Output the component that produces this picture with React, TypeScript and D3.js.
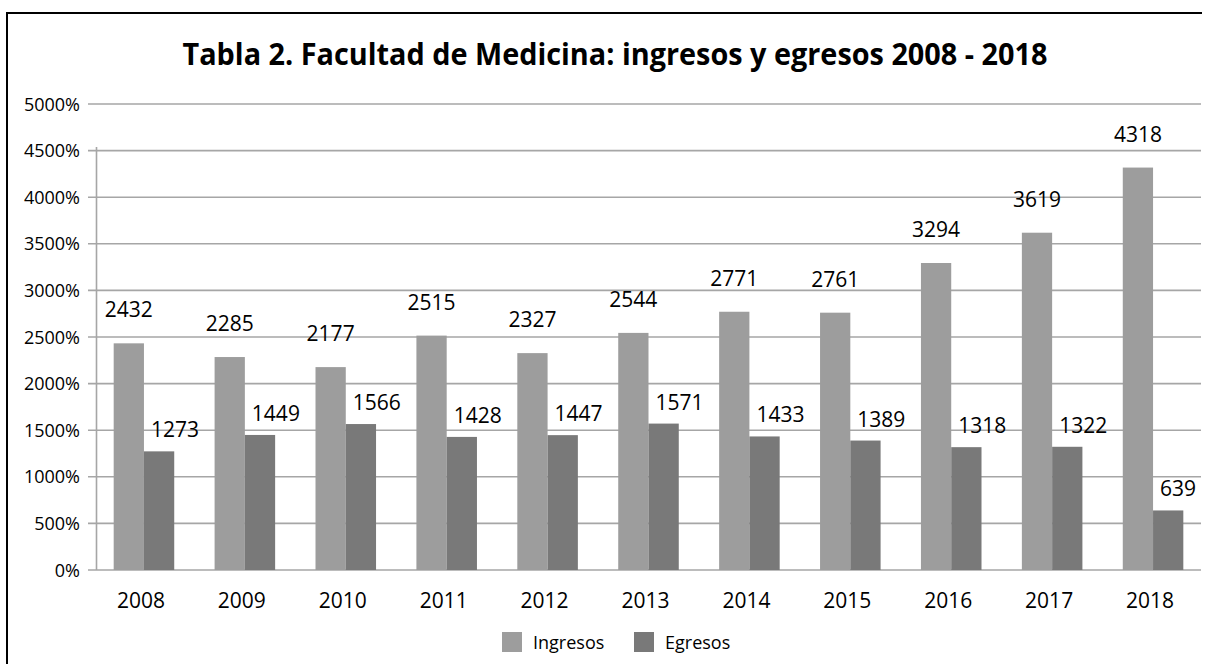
import React from "react";
import * as d3 from "d3";

const years = ["2008", "2009", "2010", "2011", "2012", "2013", "2014", "2015", "2016", "2017", "2018"];
const ingresos = [2432, 2285, 2177, 2515, 2327, 2544, 2771, 2761, 3294, 3619, 4318];
const egresos = [1273, 1449, 1566, 1428, 1447, 1571, 1433, 1389, 1318, 1322, 639];
const yTicks = [0, 500, 1000, 1500, 2000, 2500, 3000, 3500, 4000, 4500, 5000];
const seriesNames = ["Ingresos", "Egresos"];
const title = "Tabla 2. Facultad de Medicina: ingresos y egresos 2008 - 2018";

const W = 1207;
const H = 664;
const colors = ["#9d9d9d", "#797979"];
const labelGap = [26, 14];
const FONT = "'Open Sans', 'Liberation Sans', sans-serif";

export default function App() {
  const x = d3.scaleBand<string>().domain(years).range([93.5, 1203.5]).paddingInner(0.4).paddingOuter(0.2);
  const xs = d3.scaleBand<string>().domain(seriesNames).range([0, x.bandwidth()]);
  const y = d3.scaleLinear().domain([0, 5000]).range([570, 104]);
  const series = [ingresos, egresos];
  const gridX0 = 88;
  const gridX1 = 1201;
  const axisX = 96.5;

  return (
    <svg width={W} height={H} style={{ position: "absolute", left: 0, top: 0, background: "#fff" }}>
      <rect x={0} y={0} width={W} height={H} fill="#fff" />
      {/* frame */}
      <line x1={7} y1={13} x2={1202} y2={13} stroke="#000" strokeWidth={2} />
      <line x1={7} y1={12} x2={7} y2={H} stroke="#000" strokeWidth={2} />
      {/* title */}
      <text x={615} y={65} textAnchor="middle" fontFamily={FONT} fontWeight="bold" fontSize={31}
        textLength={865} lengthAdjust="spacingAndGlyphs" fill="#000">{title}</text>
      {/* gridlines & ticks */}
      {yTicks.map((t) => (
        <g key={t}>
          <line x1={gridX0} x2={gridX1} y1={y(t)} y2={y(t)} stroke="#a6a6a6" strokeWidth={1.6} />
          <text x={80} y={y(t) + 6.5} textAnchor="end" fontFamily={FONT} fontSize={18} fill="#000">{t}%</text>
        </g>
      ))}
      <line x1={axisX} x2={axisX} y1={147} y2={y(0)} stroke="#a6a6a6" strokeWidth={1.6} />
      {/* bars */}
      {series.map((vals, si) => (
        <g key={si}>
          {years.map((yr, i) => (
            <rect key={yr} x={(x(yr) as number) + (xs(seriesNames[si]) as number)} y={y(vals[i])}
              width={xs.bandwidth()} height={y(0) - y(vals[i])} fill={colors[si]} />
          ))}
        </g>
      ))}
      {/* data labels */}
      {years.map((yr, i) => {
        const bx0 = (x(yr) as number) + (xs("Ingresos") as number);
        const bx1 = (x(yr) as number) + (xs("Egresos") as number);
        return (
          <g key={yr}>
            <text x={bx0 + xs.bandwidth() / 2} y={y(ingresos[i]) - labelGap[0]} textAnchor="middle" fontFamily={FONT} fontSize={21} fill="#000">{ingresos[i]}</text>
            <text x={bx1 + 7} y={y(egresos[i]) - labelGap[1]} textAnchor="start" fontFamily={FONT} fontSize={21} fill="#000">{egresos[i]}</text>
          </g>
        );
      })}
      {/* category labels */}
      {years.map((yr) => (
        <text key={yr} x={(x(yr) as number) + x.bandwidth() / 2 - 3} y={608} textAnchor="middle" fontFamily={FONT} fontSize={21} fill="#000">{yr}</text>
      ))}
      {/* legend */}
      {seriesNames.map((s, i) => {
        const lx = i === 0 ? 502 : 634;
        return (
          <g key={s}>
            <rect x={lx} y={632} width={20} height={20} fill={colors[i]} />
            <text x={lx + 31} y={649} fontFamily={FONT} fontSize={18} fill="#000">{s}</text>
          </g>
        );
      })}
    </svg>
  );
}
